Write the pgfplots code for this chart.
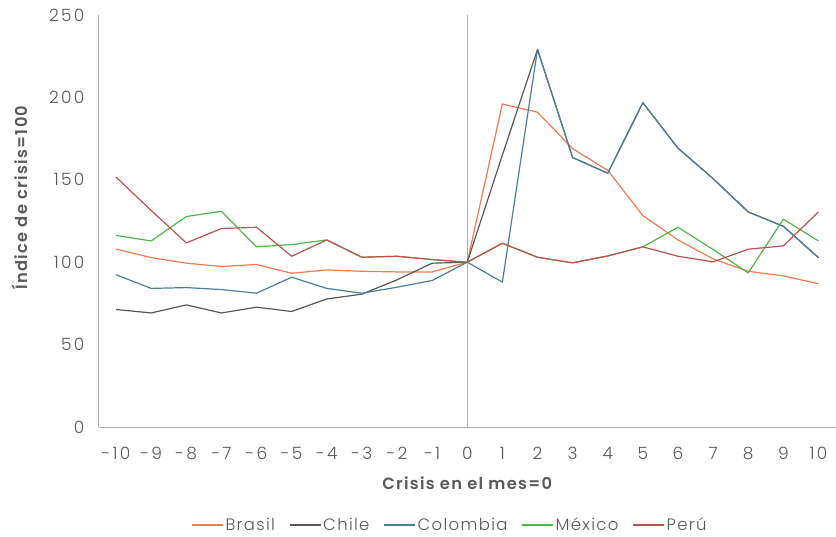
\documentclass[border=0pt]{standalone}
\usepackage{pgfplots}
\pgfplotsset{compat=1.18}
\usepackage{fontspec}
\setmainfont{Poppins}
\IfFontExistsTF{Poppins Light}{\newfontfamily\tickfont[LetterSpace=13]{Poppins Light}}{\newfontfamily\tickfont[LetterSpace=13]{Poppins}}
\IfFontExistsTF{Poppins Light}{\newfontfamily\legfont[LetterSpace=8]{Poppins Light}}{\newfontfamily\legfont[LetterSpace=8]{Poppins}}
\IfFontExistsTF{Poppins SemiBold}{\newfontfamily\labfont[LetterSpace=8]{Poppins SemiBold}}{\newfontfamily\labfont[LetterSpace=8,FakeBold=1.5]{Poppins}}
\definecolor{txt}{HTML}{595959}
\definecolor{cBr}{HTML}{F47A4D}
\definecolor{cCl}{HTML}{595959}
\definecolor{cCo}{HTML}{4B7F9C}
\definecolor{cMx}{HTML}{4DB748}
\definecolor{cPe}{HTML}{C0504D}
\begin{document}
\begin{tikzpicture}
\begin{axis}[
  at={(98.5bp,110bp)}, anchor=south west,
  scale only axis, width=737.5bp, height=412bp,
  xmin=-10.5, xmax=10.5, ymin=0, ymax=250,
  xtick={-10,-9,...,10}, ytick={0,50,...,250},
  axis x line*=bottom, axis y line*=left,
  axis line style={draw=black!30, line width=0.9bp},
  major tick length=0pt,
  /pgf/number format/assume math mode=true,
  tick label style={font=\tickfont\fontsize{17bp}{19bp}\selectfont, text=txt},
  xticklabel style={anchor=center, yshift=-26bp},
  yticklabel style={anchor=east, inner sep=0pt, xshift=-14bp},
  xlabel={Crisis en el mes=0},
  xlabel style={font=\labfont\fontsize{16.3bp}{18bp}\selectfont, text=txt, at={(rel axis cs:0.5,0)}, anchor=center, yshift=-56.5bp},
  ylabel={Índice de crisis=100},
  ylabel style={font=\labfont\fontsize{16.3bp}{18bp}\selectfont, text=txt, at={(rel axis cs:-0.1064,0.557)}, anchor=center},
  legend columns=5,
  legend style={draw=none, fill=none, at={(rel axis cs:0.4766,-0.2379)}, anchor=center,
    font=\legfont\fontsize{16.5bp}{18bp}\selectfont, text=txt,
    /tikz/every even column/.append style={column sep=12bp}},
  legend image code/.code={\draw[#1, line width=1.2bp] (0bp,0bp) -- (31bp,0bp);},
  every axis plot/.append style={line width=1.2bp, line join=round},
]
\draw[black!30, line width=0.9bp] (axis cs:0,0) -- (axis cs:0,250);
\addplot[cBr] coordinates {(-10,107.9) (-9,102.8) (-8,99.4) (-7,97.4) (-6,98.6) (-5,93.3) (-4,95.3) (-3,94.5) (-2,94.1) (-1,94.1) (0,100)
 (1,196) (2,191) (3,168.9) (4,155.7) (5,128.3) (6,113.5) (7,102) (8,94.5) (9,91.7) (10,86.9)};
\addlegendentry{Brasil}
\addplot[cCl] coordinates {(-10,71.3) (-9,69.2) (-8,74.1) (-7,69.2) (-6,72.7) (-5,70.1) (-4,77.7) (-3,80.6) (-2,89.3) (-1,99.4) (0,100)
 (1,165) (2,229.1) (3,163.5) (4,154) (5,196.8) (6,169.2) (7,150.7) (8,130.5) (9,121.8) (10,102.8)};
\addlegendentry{Chile}
\addplot[cCo] coordinates {(-10,92.4) (-9,84.1) (-8,84.6) (-7,83.4) (-6,81.2) (-5,90.9) (-4,84.1) (-3,81.2) (-2,84.8) (-1,88.9) (0,100)
 (1,87.9) (2,229.1) (3,163.5) (4,154) (5,196.8) (6,169.2) (7,150.7) (8,130.5) (9,121.8) (10,102.8)};
\addlegendentry{Colombia}
\addplot[cMx] coordinates {(-10,116.2) (-9,112.9) (-8,127.7) (-7,130.9) (-6,109.3) (-5,110.7) (-4,113.5) (-3,103) (-2,103.6) (-1,101.6) (0,100)
 (1,111.5) (2,103) (3,99.6) (4,103.8) (5,109.3) (6,121.2) (7,107.7) (8,93.5) (9,126.1) (10,112.9)};
\addlegendentry{México}
\addplot[cPe] coordinates {(-10,151.6) (-9,131.4) (-8,111.7) (-7,120.4) (-6,121.2) (-5,103.6) (-4,113.5) (-3,103) (-2,103.6) (-1,101.6) (0,100)
 (1,111.5) (2,103) (3,99.6) (4,103.8) (5,109.3) (6,103.6) (7,100.2) (8,107.9) (9,109.9) (10,130.5)};
\addlegendentry{Perú}
\end{axis}
\pgfresetboundingbox
\useasboundingbox (0,0) rectangle (836bp,537bp);
\end{tikzpicture}
\end{document}
